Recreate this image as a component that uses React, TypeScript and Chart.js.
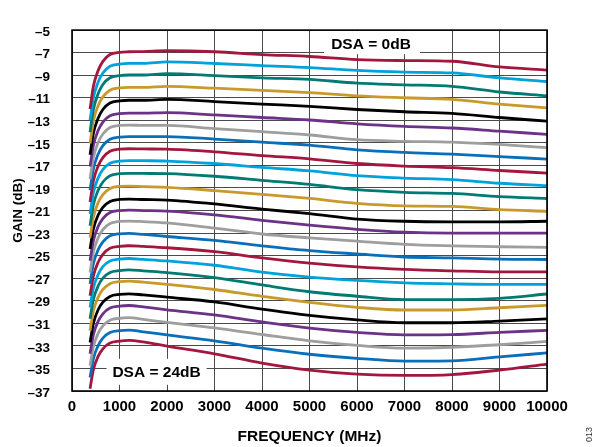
import React, { useEffect, useRef } from "react";
import { Chart, registerables } from "chart.js";

Chart.register(...registerables);

const FREQ_MHZ = [380, 450, 550, 650, 800, 1000, 1200, 1500, 2000, 3000, 4000, 5000, 6000, 7000, 8000, 9000, 10000];

const dsa0 = [-12.0, -9.99, -8.58, -7.77, -7.17, -6.97, -6.92, -6.9, -6.83, -6.92, -7.17, -7.34, -7.62, -7.7, -7.76, -8.27, -8.55];
const dsa1 = [-13.0, -11.0, -9.61, -8.81, -8.21, -8.01, -7.95, -7.95, -7.82, -7.96, -8.15, -8.32, -8.58, -8.72, -8.8, -9.23, -9.56];
const dsa2 = [-14.06, -12.05, -10.64, -9.83, -9.23, -9.03, -8.98, -8.98, -8.86, -9.03, -9.23, -9.37, -9.7, -9.85, -9.99, -10.49, -10.83];
const dsa3 = [-15.05, -13.08, -11.7, -10.92, -10.33, -10.13, -10.08, -10.08, -9.99, -10.15, -10.35, -10.55, -10.83, -11.0, -11.14, -11.56, -11.9];
const dsa4 = [-16.05, -14.14, -12.81, -12.04, -11.47, -11.28, -11.22, -11.22, -11.14, -11.34, -11.56, -11.76, -12.04, -12.24, -12.38, -12.75, -13.08];
const dsa5 = [-17.1, -15.22, -13.91, -13.16, -12.6, -12.41, -12.37, -12.37, -12.32, -12.52, -12.75, -12.97, -13.31, -13.54, -13.68, -13.96, -14.24];
const dsa6 = [-18.2, -16.3, -14.97, -14.21, -13.64, -13.45, -13.42, -13.45, -13.45, -13.73, -14.01, -14.3, -14.72, -14.86, -14.94, -15.14, -15.42];
const dsa7 = [-19.2, -17.32, -16.0, -15.24, -14.68, -14.49, -14.45, -14.45, -14.44, -14.66, -14.94, -15.2, -15.62, -15.85, -15.99, -16.21, -16.44];
const dsa8 = [-20.25, -18.37, -17.06, -16.31, -15.75, -15.56, -15.52, -15.54, -15.56, -15.79, -16.13, -16.41, -16.83, -17.06, -17.2, -17.45, -17.68];
const dsa9 = [-21.3, -19.42, -18.11, -17.36, -16.8, -16.61, -16.57, -16.58, -16.61, -16.83, -17.17, -17.48, -17.9, -18.12, -18.26, -18.58, -18.8];
const dsa10 = [-22.35, -20.5, -19.21, -18.47, -17.91, -17.73, -17.7, -17.71, -17.73, -17.96, -18.32, -18.68, -19.15, -19.38, -19.48, -19.76, -19.93];
const dsa11 = [-23.4, -21.58, -20.31, -19.59, -19.04, -18.86, -18.84, -18.88, -18.94, -19.23, -19.56, -19.92, -20.36, -20.58, -20.63, -20.92, -21.06];
const dsa12 = [-24.4, -22.64, -21.41, -20.71, -20.19, -20.01, -19.98, -20.02, -20.07, -20.41, -20.87, -21.28, -21.76, -21.95, -22.0, -22.0, -21.95];
const dsa13 = [-25.45, -23.67, -22.42, -21.71, -21.18, -21.0, -20.97, -21.0, -21.05, -21.38, -21.87, -22.3, -22.66, -22.92, -23.0, -23.0, -23.0];
const dsa14 = [-26.5, -24.68, -23.41, -22.69, -22.14, -21.96, -21.93, -21.98, -22.1, -22.55, -23.08, -23.42, -23.72, -24.0, -24.13, -24.21, -24.27];
const dsa15 = [-27.5, -25.72, -24.48, -23.77, -23.24, -23.06, -23.03, -23.12, -23.3, -23.65, -24.13, -24.55, -24.85, -25.12, -25.2, -25.31, -25.34];
const dsa16 = [-28.55, -26.8, -25.58, -24.88, -24.35, -24.18, -24.12, -24.18, -24.3, -24.65, -25.2, -25.66, -26.0, -26.22, -26.35, -26.44, -26.44];
const dsa17 = [-29.6, -27.88, -26.68, -25.98, -25.48, -25.31, -25.25, -25.33, -25.47, -25.85, -26.45, -26.9, -27.2, -27.42, -27.5, -27.55, -27.55];
const dsa18 = [-30.6, -28.89, -27.69, -27.0, -26.49, -26.32, -26.26, -26.35, -26.5, -26.95, -27.6, -28.2, -28.6, -28.9, -28.9, -28.78, -28.4];
const dsa19 = [-31.65, -29.91, -28.7, -28.0, -27.48, -27.31, -27.25, -27.35, -27.55, -28.0, -28.6, -29.15, -29.58, -29.82, -29.82, -29.62, -29.4];
const dsa20 = [-32.7, -31.0, -29.8, -29.12, -28.61, -28.44, -28.38, -28.48, -28.68, -29.1, -29.74, -30.3, -30.7, -30.95, -30.95, -30.8, -30.6];
const dsa21 = [-33.7, -32.01, -30.83, -30.16, -29.65, -29.48, -29.42, -29.55, -29.8, -30.25, -30.87, -31.42, -31.8, -32.02, -32.0, -31.8, -31.62];
const dsa22 = [-34.75, -33.07, -31.89, -31.22, -30.72, -30.55, -30.5, -30.65, -30.92, -31.4, -31.99, -32.55, -32.95, -33.2, -33.12, -32.9, -32.6];
const dsa23 = [-35.8, -34.14, -32.98, -32.31, -31.82, -31.65, -31.6, -31.75, -32.03, -32.55, -33.2, -33.74, -34.1, -34.35, -34.33, -33.98, -33.62];
const dsa24 = [-36.8, -35.11, -33.93, -33.26, -32.75, -32.58, -32.52, -32.65, -33.02, -33.7, -34.52, -35.14, -35.5, -35.62, -35.54, -35.15, -34.61];

const SERIES = [dsa0, dsa1, dsa2, dsa3, dsa4, dsa5, dsa6, dsa7, dsa8, dsa9, dsa10, dsa11, dsa12,
  dsa13, dsa14, dsa15, dsa16, dsa17, dsa18, dsa19, dsa20, dsa21, dsa22, dsa23, dsa24];

const PALETTE = ["#a3173f", "#00a2db", "#007a72", "#c89a2c", "#000000", "#6c3288", "#9e9e9e", "#0a6fb8"];

const X_TICKS = [0, 1000, 2000, 3000, 4000, 5000, 6000, 7000, 8000, 9000, 10000];
const Y_MIN = -37;
const Y_MAX = -5;
const Y_STEP = 2;

const X_TITLE = "FREQUENCY (MHz)";
const Y_TITLE = "GAIN (dB)";
const TOP_NOTE = "DSA = 0dB";
const BOTTOM_NOTE = "DSA = 24dB";
const FIG_ID = "013";

const FONT = '"Liberation Sans", Arial, Helvetica, sans-serif';

export default function App() {
  const ref = useRef<HTMLCanvasElement | null>(null);

  useEffect(() => {
    document.body.style.margin = "0";
    const canvas = ref.current;
    if (!canvas) return;

    const decor = {
      id: "decor",
      beforeDatasetsDraw(chart: any) {
        const { ctx, scales } = chart;
        const xs = scales.x;
        const ys = scales.y;
        ctx.save();
        ctx.font = `bold 15.5px ${FONT}`;
        ctx.textAlign = "center";
        ctx.textBaseline = "middle";
        const tx = xs.getPixelForValue(6400);
        const ty = ys.getPixelForValue(-6.2);
        ctx.fillStyle = "#ffffff";
        ctx.fillRect(tx - 52, ys.top + 1, 96, 23);
        ctx.fillStyle = "#000000";
        ctx.fillText(TOP_NOTE, tx - 5, ty + 1);
        const bx = xs.getPixelForValue(1780);
        const by = ys.getPixelForValue(-35.3);
        ctx.fillStyle = "#ffffff";
        ctx.fillRect(bx - 50, by - 13, 100, 26);
        ctx.fillStyle = "#000000";
        ctx.fillText(BOTTOM_NOTE, bx, by + 1);
        ctx.restore();
      },
      afterDraw(chart: any) {
        const { ctx, chartArea } = chart;
        ctx.save();
        ctx.strokeStyle = "#000000";
        ctx.lineWidth = 1.6;
        ctx.strokeRect(chartArea.left, chartArea.top, chartArea.right - chartArea.left, chartArea.bottom - chartArea.top);
        ctx.fillStyle = "#000000";
        ctx.textAlign = "center";
        ctx.textBaseline = "middle";
        ctx.font = `bold 15.5px ${FONT}`;
        ctx.fillText(X_TITLE, (chartArea.left + chartArea.right) / 2, 437);
        ctx.save();
        ctx.translate(18, (chartArea.top + chartArea.bottom) / 2);
        ctx.rotate(-Math.PI / 2);
        ctx.font = `bold 13.5px ${FONT}`;
        ctx.fillText(Y_TITLE, 0, 0);
        ctx.restore();
        ctx.save();
        ctx.translate(590, 434.5);
        ctx.rotate(-Math.PI / 2);
        ctx.font = `9px ${FONT}`;
        ctx.fillStyle = "#333333";
        ctx.fillText(FIG_ID, 0, 0);
        ctx.restore();
        ctx.restore();
      },
    };

    const chart = new Chart(canvas, {
      type: "line",
      data: {
        datasets: SERIES.map((vals, i) => ({
          label: `DSA ${i} dB`,
          data: vals.map((v, j) => ({ x: FREQ_MHZ[j], y: v })),
          borderColor: PALETTE[i % PALETTE.length],
          backgroundColor: PALETTE[i % PALETTE.length],
          borderWidth: 2.8,
          pointRadius: 0,
          cubicInterpolationMode: "monotone" as const,
          fill: false,
        })),
      },
      options: {
        animation: false,
        responsive: false,
        events: [],
        layout: { padding: { left: 0, top: 12, right: 50, bottom: 0 } },
        plugins: { legend: { display: false }, tooltip: { enabled: false }, title: { display: false } },
        scales: {
          x: {
            type: "linear",
            min: 0,
            max: 10000,
            afterBuildTicks: (scale: any) => {
              scale.ticks = X_TICKS.map((v) => ({ value: v }));
            },
            afterFit: (scale: any) => {
              scale.height = 56;
            },
            grid: { color: "#4a4a4a", lineWidth: 1, drawTicks: false },
            border: { display: false },
            ticks: {
              autoSkip: false,
              maxRotation: 0,
              padding: 7,
              color: "#000000",
              font: { family: FONT, size: 15, weight: "bold" },
              callback: (v: any) => String(v),
            },
          },
          y: {
            type: "linear",
            min: Y_MIN,
            max: Y_MAX,
            afterFit: (scale: any) => {
              scale.width = 72;
            },
            grid: { color: "#4a4a4a", lineWidth: 1, drawTicks: false },
            border: { display: false },
            ticks: {
              stepSize: Y_STEP,
              padding: 22,
              labelOffset: 2,
              color: "#000000",
              font: { family: FONT, size: 13.5, weight: "bold" },
              callback: (v: any) => String(v).replace("-", "\u2013"),
            },
          },
        },
      },
      plugins: [decor],
    });

    return () => chart.destroy();
  }, []);

  return (
    <div style={{ position: "absolute", left: 0, top: 0, width: 597, height: 447, background: "#ffffff" }}>
      <canvas ref={ref} width={597} height={447} style={{ display: "block", width: 597, height: 447 }} />
    </div>
  );
}
